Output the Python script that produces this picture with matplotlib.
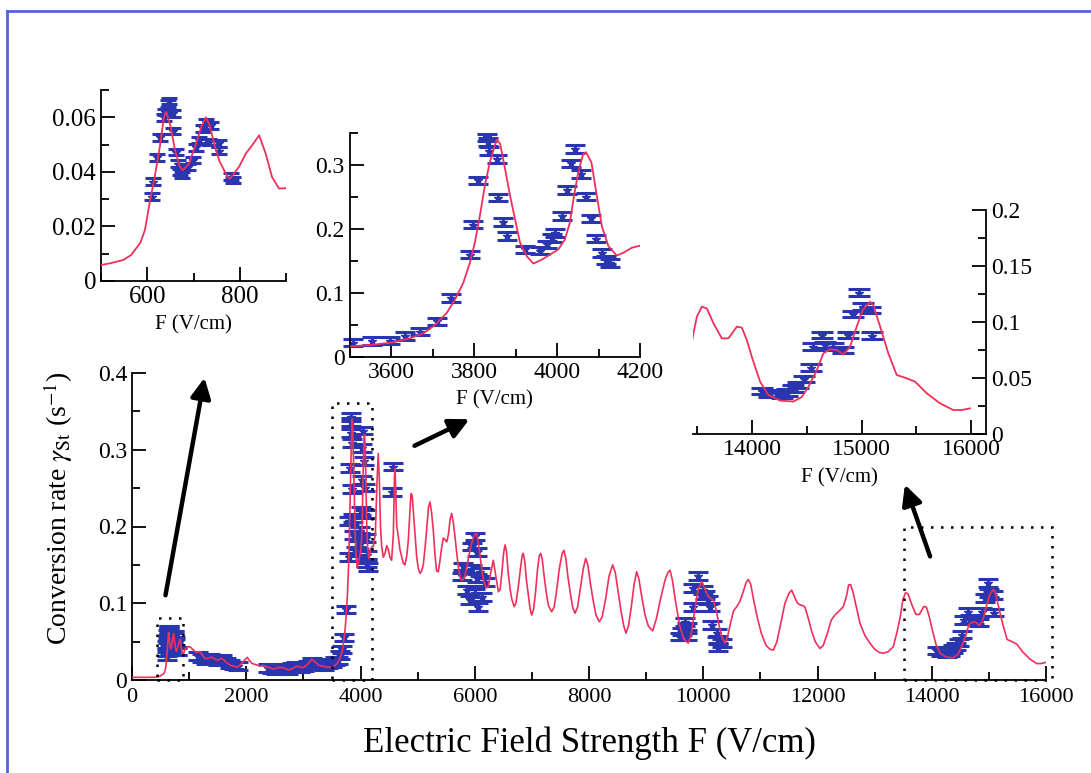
import matplotlib
matplotlib.use("Agg")
import matplotlib.pyplot as plt
from matplotlib.patches import Rectangle, FancyArrowPatch
from matplotlib.lines import Line2D
from matplotlib.ticker import MultipleLocator

plt.rcParams['font.family'] = ['Liberation Serif', 'DejaVu Serif']
plt.rcParams['mathtext.fontset'] = 'stix'

# ---------------- data ----------------
# theory curve pieces (main plot)
low_x = [0, 200, 400, 450, 490]
low_y = [0.0035, 0.0035, 0.0035, 0.004, 0.005]

inset1_curve_x = [501, 520, 548, 565, 585, 595, 605, 616, 627, 636, 641, 650, 660, 670, 677, 690, 705,
                  718, 727, 735, 745, 756, 774, 779, 799, 813, 827, 842, 856, 870, 885, 900]
inset1_curve_y = [0.0059, 0.0065, 0.0077, 0.0095, 0.0140, 0.0187, 0.0285, 0.038, 0.049, 0.060, 0.062,
                  0.057, 0.048, 0.042, 0.0406, 0.043, 0.050, 0.057, 0.060, 0.057, 0.050, 0.044, 0.038,
                  0.0375, 0.042, 0.0467, 0.0498, 0.0534, 0.0467, 0.038, 0.0339, 0.034]

mid_x = [928, 970, 1015, 1060, 1103, 1150, 1190, 1240, 1278, 1330, 1395, 1450, 1511, 1560, 1599,
         1650, 1716, 1780, 1832, 1890, 1949, 2018, 2095, 2170, 2241, 2300, 2358, 2420, 2473, 2550,
         2620, 2680, 2737, 2810, 2883, 2940, 3000, 3080, 3146, 3200, 3262, 3330, 3408]
mid_y = [0.040, 0.043, 0.0434, 0.040, 0.037, 0.036, 0.037, 0.032, 0.028, 0.028, 0.030, 0.027, 0.026,
         0.028, 0.027, 0.023, 0.0195, 0.018, 0.0165, 0.019, 0.024, 0.0295, 0.0217, 0.020, 0.018,
         0.019, 0.017, 0.016, 0.014, 0.016, 0.0165, 0.015, 0.013, 0.015, 0.018, 0.017, 0.016, 0.021,
         0.027, 0.024, 0.0195, 0.018, 0.017]

inset2_curve_x = [3497, 3549, 3602, 3646, 3678, 3706, 3734, 3754, 3774, 3790, 3802, 3814, 3826, 3838,
                  3850, 3855, 3863, 3875, 3887, 3899, 3911, 3927, 3943, 3963, 3983, 4003, 4019, 4031,
                  4041, 4051, 4063, 4070, 4083, 4096, 4108, 4124, 4144, 4160, 4180, 4200]
inset2_curve_y = [0.0162, 0.0188, 0.0225, 0.0293, 0.037, 0.050, 0.0686, 0.0895, 0.1156, 0.147, 0.1785,
                  0.220, 0.267, 0.304, 0.330, 0.340, 0.333, 0.2936, 0.2517, 0.215, 0.1785, 0.1575,
                  0.146, 0.152, 0.160, 0.168, 0.1837, 0.21, 0.2517, 0.288, 0.317, 0.320, 0.304,
                  0.2517, 0.2045, 0.173, 0.1585, 0.163, 0.1706, 0.174]

high_x = [4224, 4260, 4290, 4311, 4330, 4350, 4370, 4400, 4429, 4460, 4487, 4515, 4545, 4575, 4595,
          4604, 4615, 4635, 4662, 4690, 4720, 4750, 4779, 4810, 4837, 4865, 4885, 4905, 4930, 4954,
          4983, 5010, 5041, 5070, 5099, 5130, 5157, 5190, 5216, 5245, 5274, 5304, 5333, 5362, 5390,
          5420, 5450, 5479, 5510, 5540, 5570, 5596, 5625, 5654, 5685, 5712, 5740, 5771, 5800, 5829,
          5860, 5887, 5920, 5946, 5975, 6004, 6034, 6065, 6100, 6130, 6160, 6200, 6238, 6280, 6325,
          6360, 6413, 6445, 6475, 6505, 6529, 6555, 6585, 6620, 6650, 6690, 6720, 6760, 6800, 6830,
          6850, 6875, 6905, 6940, 6970, 6997, 7030, 7065, 7100, 7130, 7154, 7180, 7215, 7250, 7290,
          7346, 7390, 7430, 7480, 7530, 7562, 7595, 7630, 7680, 7720, 7755, 7800, 7850, 7900, 7942,
          7980, 8020, 8070, 8120, 8180, 8230, 8290, 8350, 8414, 8460, 8510, 8560, 8610, 8647, 8690,
          8740, 8790, 8834, 8870, 8920, 8980, 9040, 9115, 9180, 9250, 9330, 9380, 9418, 9460, 9520,
          9590, 9660, 9738, 9790, 9850, 9910, 9972, 10030, 10080, 10130, 10176, 10230, 10280, 10330,
          10381, 10430, 10480, 10530, 10585, 10640, 10700, 10750, 10789, 10830, 10880, 10950, 11020,
          11100, 11170, 11226, 11290, 11360, 11430, 11500, 11548, 11600, 11650, 11693, 11740, 11780,
          11840, 11900, 11960, 12043, 12100, 12170, 12240, 12306, 12380, 12451, 12510, 12545, 12580,
          12620, 12680, 12744, 12830, 12919, 13000, 13080, 13152, 13240, 13327, 13400]
high_y = [0.174, 0.19, 0.26, 0.295, 0.26, 0.20, 0.174, 0.16, 0.165, 0.175, 0.17, 0.16, 0.156, 0.19,
          0.265, 0.276, 0.25, 0.20, 0.187, 0.17, 0.161, 0.152, 0.15, 0.162, 0.182, 0.22, 0.243, 0.24,
          0.215, 0.19, 0.161, 0.146, 0.139, 0.142, 0.15, 0.172, 0.195, 0.225, 0.232, 0.218, 0.195,
          0.163, 0.142, 0.141, 0.155, 0.172, 0.185, 0.183, 0.180, 0.19, 0.21, 0.217, 0.205, 0.187,
          0.165, 0.148, 0.135, 0.130, 0.131, 0.136, 0.146, 0.158, 0.17, 0.178, 0.185, 0.19, 0.191,
          0.178, 0.158, 0.14, 0.128, 0.12, 0.122, 0.14, 0.156, 0.14, 0.115, 0.118, 0.14, 0.165, 0.176,
          0.168, 0.14, 0.118, 0.105, 0.0955, 0.1, 0.12, 0.145, 0.162, 0.165, 0.155, 0.13, 0.11, 0.092,
          0.0847, 0.092, 0.115, 0.145, 0.162, 0.165, 0.158, 0.135, 0.115, 0.097, 0.089, 0.095, 0.115,
          0.145, 0.165, 0.169, 0.158, 0.135, 0.11, 0.093, 0.087, 0.095, 0.12, 0.145, 0.1585, 0.15,
          0.128, 0.105, 0.085, 0.076, 0.082, 0.105, 0.135, 0.150, 0.14, 0.115, 0.09, 0.07, 0.061, 0.07,
          0.095, 0.125, 0.141, 0.133, 0.11, 0.085, 0.07, 0.064, 0.08, 0.105, 0.13, 0.14, 0.143, 0.13,
          0.10, 0.07, 0.053, 0.048, 0.06, 0.09, 0.118, 0.128, 0.118, 0.11, 0.106, 0.104, 0.09, 0.07,
          0.055, 0.048, 0.058, 0.075, 0.09, 0.0955, 0.102, 0.115, 0.127, 0.131, 0.125, 0.105, 0.08,
          0.06, 0.045, 0.04, 0.039, 0.05, 0.075, 0.10, 0.113, 0.117, 0.108, 0.10, 0.098, 0.097, 0.095,
          0.08, 0.063, 0.05, 0.041, 0.045, 0.06, 0.078, 0.0847, 0.09, 0.0955, 0.11, 0.124, 0.124,
          0.115, 0.095, 0.0738, 0.058, 0.048, 0.040, 0.036, 0.0348, 0.037, 0.0434, 0.065]

inset3_curve_x = [13449, 13495, 13541, 13587, 13647, 13723, 13784, 13860, 13906, 13952, 13997, 14073,
                  14149, 14256, 14377, 14454, 14514, 14591, 14651, 14712, 14773, 14834, 14895, 14956,
                  15011, 15078, 15108, 15169, 15245, 15321, 15413, 15489, 15596, 15717, 15838, 15915,
                  15991]
inset3_curve_y = [0.0824, 0.1047, 0.1137, 0.112, 0.0988, 0.0854, 0.0854, 0.0958, 0.095, 0.0839, 0.069,
                  0.0467, 0.0348, 0.0298, 0.029, 0.033, 0.042, 0.057, 0.072, 0.0756, 0.075, 0.071,
                  0.078, 0.096, 0.1107, 0.118, 0.115, 0.096, 0.072, 0.0527, 0.0497, 0.0467, 0.0363,
                  0.0274, 0.0214, 0.0214, 0.0229]

# measured points
d1_x = [610, 612, 620, 628, 636, 639, 645, 647, 656, 656, 663, 666, 670, 675, 688, 699, 706, 711,
        720, 727, 738, 734, 756, 756, 781, 785]
d1_y = [0.0309, 0.0364, 0.0453, 0.0526, 0.060, 0.062, 0.065, 0.066, 0.0614, 0.055, 0.0473, 0.043,
        0.040, 0.0388, 0.0418, 0.0443, 0.049, 0.0516, 0.0559, 0.0583, 0.057, 0.051, 0.0504, 0.0478,
        0.0382, 0.037]
d1_err = 0.0012

dlow_x = [1150, 1220, 1290, 1360, 1430, 1500, 1570, 1640, 1710, 1780, 1850, 2380, 2450, 2520, 2590,
          2660, 2730, 2800, 2870, 2940, 3010, 3080, 3150, 3220, 3290, 3360, 3430]
dlow_y = [0.031, 0.029, 0.026, 0.029, 0.028, 0.025, 0.027, 0.024, 0.021, 0.019, 0.018, 0.016, 0.014,
          0.013, 0.016, 0.015, 0.013, 0.017, 0.019, 0.016, 0.017, 0.020, 0.024, 0.023, 0.019, 0.018,
          0.020]

d2_x = [3509, 3554, 3598, 3634, 3670, 3710, 3745, 3790, 3798, 3810, 3832, 3834, 3836, 3855, 3859,
        3869, 3879, 3923, 3959, 3975, 3987, 3995, 4011, 4023, 4033, 4043, 4059, 4071, 4083, 4094,
        4108, 4118, 4128]
d2_y = [0.0225, 0.025, 0.0256, 0.033, 0.0398, 0.0555, 0.092, 0.160, 0.207, 0.276, 0.343, 0.336,
        0.322, 0.309, 0.249, 0.211, 0.189, 0.168, 0.1664, 0.176, 0.186, 0.194, 0.220, 0.261, 0.3025,
        0.325, 0.2857, 0.2507, 0.2166, 0.185, 0.163, 0.152, 0.147]
d2_err = 0.006

d4600_x = [4574, 4546]
d4600_y = [0.278, 0.245]

d6000_x = [6004, 5946, 6034, 5800, 5946, 6092, 5771, 6034, 6179, 5859, 6004, 6121, 5917, 6063]
d6000_y = [0.187, 0.174, 0.167, 0.148, 0.145, 0.141, 0.135, 0.1325, 0.128, 0.117, 0.113, 0.1085,
           0.104, 0.0955]

d10000_x = [9914, 9826, 10001, 10030, 10088, 9826, 10118, 9680, 9710, 10147, 9622, 9710, 10235,
            10263, 10322, 10263, 9593]
d10000_y = [0.1355, 0.1195, 0.117, 0.111, 0.104, 0.0955, 0.0955, 0.076, 0.0695, 0.0717, 0.063,
            0.0565, 0.061, 0.052, 0.048, 0.0434, 0.0565]
dmain_err = 0.005

d3_x = [14088, 14158, 14225, 14270, 14317, 14377, 14423, 14474, 14535, 14560, 14636, 14666, 14742,
        14828, 14879, 14924, 14980, 15010, 15078, 15093]
d3_y = [0.0384, 0.0363, 0.0357, 0.035, 0.0369, 0.0408, 0.0437, 0.049, 0.0592, 0.078, 0.0884,
        0.0795, 0.078, 0.075, 0.0884, 0.1071, 0.1262, 0.1137, 0.1107, 0.0878]
d3_err = 0.003

# zoom boxes on main plot: (x0, x1, top)
boxes = [(437, 893, 0.081), (3500, 4200, 0.361), (13520, 16100, 0.20)]

main_xticks = [0, 2000, 4000, 6000, 8000, 10000, 12000, 14000, 16000]
main_yticks = [0, 0.1, 0.2, 0.3, 0.4]

# ---------------- style ----------------
RED = '#f0305a'
BLUE = '#2a36b0'
W, H = 1091, 773

fig = plt.figure(figsize=(W / 100, H / 100), dpi=100)


def fbox(l, r, t, b):
    return [l / W, 1 - b / H, (r - l) / W, (b - t) / H]


def style_axes(ax, spines=('left', 'bottom'), lab=15):
    for s in ['left', 'right', 'top', 'bottom']:
        ax.spines[s].set_visible(s in spines)
        ax.spines[s].set_linewidth(1.3)
    ax.tick_params(which='both', direction='in', labelsize=lab, width=1.3,
                   top=False, right='right' in spines, left='left' in spines,
                   labelright='right' in spines, labelleft='left' in spines)
    ax.tick_params(which='major', length=10)
    ax.tick_params(which='minor', length=6)


def errpts(ax, x, y, err, cap, ms=6):
    ax.errorbar(x, y, yerr=err, fmt='*', color=BLUE, ms=ms, capsize=cap, capthick=2.2,
                elinewidth=1.5, zorder=2, clip_on=False)


# main axes
ax = fig.add_axes(fbox(132, 1046, 373, 680))
main_x = low_x + inset1_curve_x + mid_x + inset2_curve_x + high_x + inset3_curve_x
main_y = low_y + inset1_curve_y + mid_y + inset2_curve_y + high_y + inset3_curve_y
for xs, ys in [(d1_x, d1_y), (dlow_x, dlow_y), (d2_x, d2_y), (d4600_x, d4600_y),
               (d6000_x, d6000_y), (d10000_x, d10000_y), (d3_x, d3_y)]:
    errpts(ax, xs, ys, dmain_err, 7, ms=6)
ax.plot(main_x, main_y, color=RED, lw=1.2, zorder=3)
ax.set_xlim(0, 16000)
ax.set_ylim(0, 0.4)
ax.set_xticks(main_xticks)
ax.set_yticks(main_yticks)
ax.set_yticklabels(['0', '0.1', '0.2', '0.3', '0.4'])
ax.xaxis.set_minor_locator(MultipleLocator(1000))
ax.yaxis.set_minor_locator(MultipleLocator(0.05))
style_axes(ax, lab=15)
ax.tick_params(axis='y', labelsize=17)
ax.tick_params(axis='x', labelsize=16, pad=6)
ax.set_xlabel('Electric Field Strength F (V/cm)', fontsize=25, labelpad=14)
ax.set_ylabel(r'Conversion rate $\gamma_{\rm St}$ (s$^{-1}$)', fontsize=20)
ax.yaxis.set_label_coords(-0.062, 0.56)
for x0, x1, top in boxes:
    ax.add_patch(Rectangle((x0, 0), x1 - x0, top, fill=False, ls=(0, (1, 3)), lw=1.8,
                           color='black', clip_on=False, zorder=4))

# inset 1
a1 = fig.add_axes(fbox(101, 286, 90, 281))
errpts(a1, d1_x, d1_y, d1_err, 6, ms=6)
a1.plot(inset1_curve_x, inset1_curve_y, color=RED, lw=1.3, zorder=3)
a1.set_xlim(500, 900)
a1.set_ylim(0, 0.07)
a1.set_xticks([600, 800])
a1.set_yticks([0, 0.02, 0.04, 0.06])
a1.set_yticklabels(['0', '0.02', '0.04', '0.06'])
a1.xaxis.set_minor_locator(MultipleLocator(100))
a1.yaxis.set_minor_locator(MultipleLocator(0.01))
style_axes(a1, lab=18)
a1.set_xlabel('F (V/cm)', fontsize=15, labelpad=5)

# inset 2
a2 = fig.add_axes(fbox(349.5, 640, 133, 357))
errpts(a2, d2_x, d2_y, d2_err, 7, ms=6)
a2.plot(inset2_curve_x, inset2_curve_y, color=RED, lw=1.3, zorder=3)
a2.set_xlim(3500, 4200)
a2.set_ylim(0, 0.35)
a2.set_xticks([3600, 3800, 4000, 4200])
a2.set_yticks([0, 0.1, 0.2, 0.3])
a2.set_yticklabels(['0', '0.1', '0.2', '0.3'])
a2.xaxis.set_minor_locator(MultipleLocator(100))
a2.yaxis.set_minor_locator(MultipleLocator(0.05))
style_axes(a2, lab=17)
a2.set_xlabel('F (V/cm)', fontsize=15, labelpad=5)

# inset 3
a3 = fig.add_axes(fbox(693, 986, 210, 434))
errpts(a3, d3_x, d3_y, d3_err, 8, ms=6)
a3.plot(inset3_curve_x, inset3_curve_y, color=RED, lw=1.3, zorder=3)
a3.set_xlim(13460, 16137)
a3.set_ylim(0, 0.2)
a3.set_xticks([14000, 15000, 16000])
a3.set_yticks([0, 0.05, 0.1, 0.15, 0.2])
a3.set_yticklabels(['0', '0.05', '0.1', '0.15', '0.2'])
a3.xaxis.set_minor_locator(MultipleLocator(500))
a3.yaxis.set_minor_locator(MultipleLocator(0.025))
style_axes(a3, spines=('right', 'bottom'), lab=17)
a3.set_xlabel('F (V/cm)', fontsize=15, labelpad=6)

# arrows (figure pixel coordinates)
arrows = [((165, 598), (205, 375)), ((412, 447), (472, 418)), ((931, 559), (904, 482))]
for (tx, ty), (hx, hy) in arrows:
    fig.add_artist(FancyArrowPatch((tx / W, 1 - ty / H), (hx / W, 1 - hy / H),
                                   transform=fig.transFigure, arrowstyle='-|>',
                                   mutation_scale=30, lw=3.2, color='black'))

# blue frame (left and top edges)
fig.add_artist(Line2D([7 / W, 7 / W], [0, 1 - 11 / H], transform=fig.transFigure,
                      color='#5565d0', lw=2))
fig.add_artist(Line2D([7 / W, 1], [1 - 11 / H, 1 - 11 / H], transform=fig.transFigure,
                      color='#5565d0', lw=2))

fig.savefig('out.png', dpi=100)
